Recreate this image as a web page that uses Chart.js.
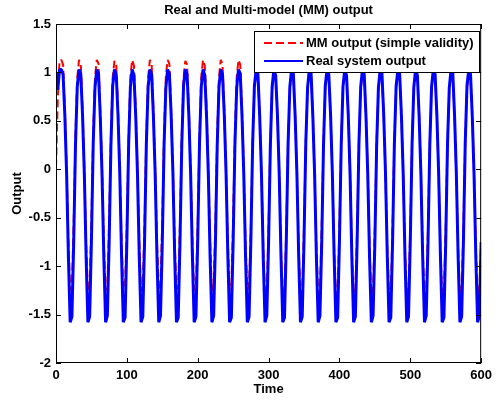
<!DOCTYPE html>
<html>
<head>
<meta charset="utf-8">
<script src="https://cdn.jsdelivr.net/npm/chart.js@4"></script>
<style>
  html, body { margin: 0; padding: 0; background: #fff; }
  canvas { display: block; }
</style>
</head>
<body>
<canvas id="mmChart" width="497" height="402"></canvas>
<script>
/* Real vs multi-model output (one row = one ~25 s cycle, samples every 2.5 s) */
const mmOutput = [
  0.02, 0.72, 1.12, 1.13, 1.08, 0.62, 0.00, -0.75, -1.25, -1.20,
  -0.55, 0.35, 0.95, 1.13, 1.08, 0.62, -0.01, -0.75, -1.26, -1.20,
  -0.54, 0.36, 0.94, 1.13, 1.09, 0.61, 0.00, -0.76, -1.25, -1.21,
  -0.55, 0.35, 0.95, 1.12, 1.08, 0.62, 0.01, -0.75, -1.24, -1.20,
  -0.56, 0.34, 0.96, 1.13, 1.07, 0.63, 0.00, -0.74, -1.26, -1.19,
  -0.55, 0.35, 0.95, 1.13, 1.08, 0.62, -0.01, -0.75, -1.25, -1.20,
  -0.54, 0.36, 0.95, 1.13, 1.09, 0.61, 0.00, -0.76, -1.24, -1.21,
  -0.55, 0.35, 0.94, 1.12, 1.08, 0.62, 0.01, -0.75, -1.25, -1.20,
  -0.56, 0.34, 0.96, 1.13, 1.07, 0.63, 0.00, -0.74, -1.26, -1.19,
  -0.55, 0.35, 0.95, 1.13, 1.08, 0.62, -0.01, -0.75, -1.25, -1.20,
  -0.54, 0.36, 0.95, 1.13, 1.08, 0.62, 0.00, -0.76, -1.24, -1.21,
  -0.59, 0.29, 0.84, 1.00, 0.96, 0.55, -0.05, -0.82, -1.30, -1.25,
  -0.60, 0.28, 0.83, 0.99, 0.97, 0.56, -0.04, -0.83, -1.31, -1.24,
  -0.61, 0.27, 0.83, 1.00, 0.96, 0.55, -0.05, -0.82, -1.30, -1.25,
  -0.60, 0.28, 0.82, 1.00, 0.95, 0.54, -0.06, -0.81, -1.29, -1.26,
  -0.59, 0.29, 0.84, 0.99, 0.96, 0.55, -0.05, -0.82, -1.30, -1.25,
  -0.60, 0.28, 0.83, 1.00, 0.97, 0.56, -0.04, -0.83, -1.31, -1.24,
  -0.61, 0.27, 0.83, 1.00, 0.96, 0.55, -0.05, -0.82, -1.30, -1.25,
  -0.60, 0.28, 0.82, 1.00, 0.95, 0.54, -0.06, -0.81, -1.29, -1.26,
  -0.59, 0.29, 0.84, 0.99, 0.96, 0.55, -0.05, -0.82, -1.30, -1.25,
  -0.60, 0.28, 0.83, 1.00, 0.97, 0.56, -0.04, -0.83, -1.31, -1.24,
  -0.61, 0.27, 0.83, 1.00, 0.96, 0.55, -0.05, -0.82, -1.30, -1.25,
  -0.60, 0.28, 0.82, 1.00, 0.95, 0.54, -0.06, -0.81, -1.29, -1.26,
  -0.59, 0.29, 0.84, 0.99, 0.96, 0.55, -0.05, -0.82, -1.30, -1.25,
  -0.76
];

const realOutput = [
  1.00, 0.82, 1.03, 1.03, 0.98, 0.55, -0.05, -0.90, -1.58, -1.52,
  -0.75, 0.25, 0.85, 1.03, 0.98, 0.55, -0.05, -0.90, -1.58, -1.52,
  -0.74, 0.26, 0.84, 1.03, 0.99, 0.54, -0.06, -0.91, -1.58, -1.51,
  -0.76, 0.24, 0.86, 1.03, 0.98, 0.56, -0.04, -0.89, -1.58, -1.53,
  -0.75, 0.25, 0.85, 1.03, 0.97, 0.55, -0.05, -0.90, -1.58, -1.52,
  -0.74, 0.26, 0.85, 1.03, 0.98, 0.54, -0.06, -0.91, -1.58, -1.51,
  -0.76, 0.24, 0.84, 1.03, 0.99, 0.56, -0.04, -0.89, -1.58, -1.53,
  -0.75, 0.25, 0.86, 1.03, 0.98, 0.55, -0.05, -0.90, -1.58, -1.52,
  -0.74, 0.26, 0.85, 1.03, 0.97, 0.54, -0.06, -0.91, -1.58, -1.51,
  -0.76, 0.24, 0.85, 1.03, 0.98, 0.56, -0.04, -0.89, -1.58, -1.53,
  -0.75, 0.25, 0.84, 1.03, 0.99, 0.55, -0.05, -0.90, -1.58, -1.52,
  -0.74, 0.26, 0.86, 1.03, 0.98, 0.54, -0.06, -0.91, -1.58, -1.51,
  -0.76, 0.24, 0.85, 1.03, 0.97, 0.56, -0.04, -0.89, -1.58, -1.53,
  -0.75, 0.25, 0.85, 1.03, 0.98, 0.55, -0.05, -0.90, -1.58, -1.52,
  -0.74, 0.26, 0.84, 1.03, 0.99, 0.54, -0.06, -0.91, -1.58, -1.51,
  -0.76, 0.24, 0.86, 1.03, 0.98, 0.56, -0.04, -0.89, -1.58, -1.53,
  -0.75, 0.25, 0.85, 1.03, 0.97, 0.55, -0.05, -0.90, -1.58, -1.52,
  -0.74, 0.26, 0.85, 1.03, 0.98, 0.54, -0.06, -0.91, -1.58, -1.51,
  -0.76, 0.24, 0.84, 1.03, 0.99, 0.56, -0.04, -0.89, -1.58, -1.53,
  -0.75, 0.25, 0.86, 1.03, 0.98, 0.55, -0.05, -0.90, -1.58, -1.52,
  -0.74, 0.26, 0.85, 1.03, 0.97, 0.54, -0.06, -0.91, -1.58, -1.51,
  -0.76, 0.24, 0.85, 1.03, 0.98, 0.56, -0.04, -0.89, -1.58, -1.53,
  -0.75, 0.25, 0.84, 1.03, 0.99, 0.55, -0.05, -0.90, -1.58, -1.52,
  -0.74, 0.26, 0.86, 1.03, 0.98, 0.54, -0.06, -0.91, -1.58, -1.51,
  -0.75
];

// sample instants (s)
const time = realOutput.map((_, i) => i * 2.5);

const seriesLabels = ['MM output (simple validity)', 'Real system output'];
const xTicks = [0, 100, 200, 300, 400, 500, 600];
const yTicks = [-2, -1.5, -1, -0.5, 0, 0.5, 1, 1.5];

const FONT = { family: '"Liberation Sans", Arial, Helvetica, sans-serif', size: 13, weight: 'bold' };

// MATLAB-like box, inward ticks and boxed legend
const matlabFrame = {
  id: 'matlabFrame',
  afterDatasetsDraw(chart) {
    const { ctx, chartArea: a, scales: { x, y } } = chart;
    ctx.save();
    ctx.strokeStyle = '#000';
    ctx.lineWidth = 1;
    ctx.strokeRect(a.left + 0.5, a.top + 0.5, a.right - a.left - 1, a.bottom - a.top - 1);

    ctx.beginPath();
    xTicks.forEach(v => {
      const px = Math.round(x.getPixelForValue(v)) + 0.5;
      ctx.moveTo(px, a.bottom); ctx.lineTo(px, a.bottom - 5);
      ctx.moveTo(px, a.top); ctx.lineTo(px, a.top + 5);
    });
    yTicks.forEach(v => {
      const py = Math.round(y.getPixelForValue(v)) + 0.5;
      ctx.moveTo(a.left, py); ctx.lineTo(a.left + 5, py);
      ctx.moveTo(a.right, py); ctx.lineTo(a.right - 5, py);
    });
    ctx.stroke();

    // legend
    const lx = 254.5, ly = 31.5, lw = 225, lh = 41;
    ctx.fillStyle = '#fff';
    ctx.fillRect(lx, ly, lw, lh);
    ctx.strokeRect(lx, ly, lw, lh);
    ctx.font = `${FONT.weight} ${FONT.size}px ${FONT.family}`;
    ctx.textBaseline = 'middle';
    chart.data.datasets.forEach((ds, i) => {
      const rowY = ly + 11.5 + i * 18;
      ctx.strokeStyle = ds.borderColor;
      ctx.lineWidth = 2;
      ctx.setLineDash(ds.borderDash || []);
      ctx.beginPath();
      ctx.moveTo(264, rowY); ctx.lineTo(303, rowY);
      ctx.stroke();
      ctx.setLineDash([]);
      ctx.fillStyle = '#000';
      ctx.fillText(ds.label, 306, rowY);
    });
    ctx.restore();
  }
};

new Chart(document.getElementById('mmChart'), {
  type: 'line',
  data: {
    datasets: [
      {
        label: seriesLabels[0],
        data: time.map((t, i) => ({ x: t, y: mmOutput[i] })),
        borderColor: '#ff0000',
        borderWidth: 2,
        borderDash: [8, 4],
        borderJoinStyle: 'bevel',
        pointRadius: 0,
        tension: 0,
        order: 1
      },
      {
        label: seriesLabels[1],
        data: time.map((t, i) => ({ x: t, y: realOutput[i] })),
        borderColor: '#0000ff',
        borderWidth: 3,
        borderJoinStyle: 'bevel',
        pointRadius: 0,
        tension: 0,
        order: 0
      }
    ]
  },
  options: {
    responsive: false,
    animation: false,
    devicePixelRatio: 1,
    layout: { padding: { right: 12 } },
    plugins: {
      legend: { display: false },
      tooltip: { enabled: false },
      title: {
        display: true,
        fullSize: false,
        text: 'Real and Multi-model (MM) output',
        color: '#000',
        font: FONT,
        padding: { top: 3, bottom: 5.4 }
      }
    },
    scales: {
      x: {
        type: 'linear',
        min: 0, max: 600,
        afterFit(s) { s.height = 39; },
        afterBuildTicks(s) { s.ticks = xTicks.map(v => ({ value: v })); },
        ticks: { color: '#000', font: FONT, padding: 5, maxRotation: 0, callback: v => String(v) },
        grid: { display: false, drawTicks: false },
        border: { display: false },
        title: { display: true, text: 'Time', color: '#000', font: FONT, padding: { top: 0, bottom: 5 } }
      },
      y: {
        type: 'linear',
        min: -2, max: 1.5,
        afterFit(s) { s.width = 56; },
        afterBuildTicks(s) { s.ticks = yTicks.map(v => ({ value: v })); },
        ticks: { color: '#000', font: FONT, padding: 5, callback: v => String(v) },
        grid: { display: false, drawTicks: false },
        border: { display: false },
        title: { display: true, text: 'Output', color: '#000', font: FONT, padding: { top: 9.5, bottom: 0 } }
      }
    }
  },
  plugins: [matlabFrame]
});
</script>
</body>
</html>
